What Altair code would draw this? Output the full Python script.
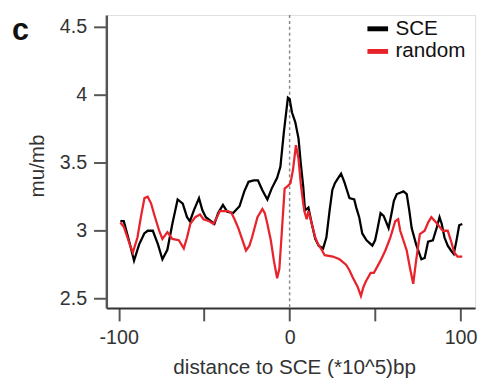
import altair as alt
import pandas as pd

# SCE (black) series
sce_x = [-99, -97, -94, -91, -88, -85, -83, -80, -77, -74.4, -71.5, -68.6, -65.5, -62.5, -60, -58.3,
         -56, -53, -51, -49, -46, -44, -41.8, -39, -36.5, -33, -29.3, -26.5, -24, -21, -18.5, -16,
         -13, -10.5, -7.3, -5.4, -3.4, -1, 0, 1.4, 3.3, 5.2, 6.5, 8, 9, 11, 13, 15, 17, 19.6, 21.5,
         23.4, 25, 26.5, 28, 30.1, 32, 33.5, 35, 37.8, 39, 40.7, 42.5, 45, 48.4, 50, 51.2, 53.2, 55,
         57.9, 59.5, 61, 62.7, 64.7, 66.6, 68.5, 70, 71.4, 74, 77.1, 79, 81, 83.8, 86, 87.7, 89,
         90.6, 92.5, 94.4, 96, 97.5, 99.2, 101]
sce_y = [3.07, 3.07, 2.93, 2.78, 2.90, 2.98, 3.00, 3.00, 2.90, 2.79, 2.86, 3.05, 3.23, 3.20, 3.10, 3.07,
         3.15, 3.24, 3.15, 3.10, 3.07, 3.05, 3.13, 3.19, 3.14, 3.13, 3.18, 3.29, 3.36, 3.37, 3.37, 3.30,
         3.23, 3.31, 3.39, 3.47, 3.72, 3.98, 3.97, 3.87, 3.80, 3.68, 3.50, 3.32, 3.15, 3.17, 3.05, 2.94,
         2.89, 2.87, 2.95, 3.15, 3.30, 3.35, 3.38, 3.42, 3.36, 3.30, 3.24, 3.23, 3.17, 3.10, 2.98, 2.93,
         2.89, 2.93, 3.00, 3.13, 3.11, 3.02, 3.12, 3.22, 3.27, 3.28, 3.29, 3.27, 3.15, 3.02, 2.90,
         2.79, 2.80, 2.92, 2.93, 3.02, 3.10, 3.05, 2.95, 2.89, 2.855, 2.83, 2.92, 3.04, 3.05]

# random (red) series
rnd_x = [-99, -97, -95.5, -93.5, -91.7, -89, -87, -84.9, -83, -81, -79.2, -76.3, -74.4, -71.5, -68.6,
         -64.8, -61.9, -60, -58.1, -55.2, -52.4, -50.4, -47, -44.6, -42.5, -40.8, -36, -34, -32.2,
         -30, -28.4, -25.5, -23.5, -22, -18.8, -15.9, -14.5, -13, -11, -9.2, -7.3, -6, -4.4, -2.9,
         -1, 0.5, 2, 3.7, 5.2, 6.5, 8, 8.6, 10, 11, 13, 15, 16.7, 19, 20.5, 25.3, 29.2, 33, 35,
         36.8, 39.7, 41.7, 43, 44.5, 47.4, 49.3, 53.2, 56, 58.9, 61.8, 63.5, 64.7, 68.5, 70.5, 72.3,
         74, 76.2, 79, 81, 82.9, 85.7, 89.6, 92.5, 94.5, 96.3, 98.2, 101]
rnd_y = [3.06, 3.03, 2.975, 2.90, 2.84, 2.95, 3.10, 3.24, 3.25, 3.20, 3.12, 3.00, 2.94, 2.99, 2.94,
         2.93, 2.87, 2.95, 3.05, 3.10, 3.12, 3.085, 3.07, 3.05, 3.10, 3.145, 3.145, 3.13, 3.085,
         3.02, 2.96, 2.855, 2.89, 2.95, 3.10, 3.16, 3.13, 3.05, 2.93, 2.78, 2.65, 2.72, 3.02, 3.31,
         3.33, 3.35, 3.45, 3.63, 3.53, 3.35, 3.20, 3.145, 3.085, 3.145, 3.05, 2.95, 2.90, 2.855, 2.82,
         2.81, 2.79, 2.75, 2.71, 2.66, 2.59, 2.52, 2.58, 2.625, 2.69, 2.69, 2.78, 2.855, 2.95, 3.07,
         3.085, 3.00, 2.855, 2.72, 2.61, 2.78, 2.975, 3.00, 3.06, 3.10, 3.06, 3.00, 3.00, 2.92, 2.84,
         2.81, 2.81]

series_names = ["SCE", "random"]
series_colors = ["#000000", "#e8232b"]
x_ticks = [-100, -50, 0, 50, 100]
y_ticks = [2.5, 3, 3.5, 4, 4.5]
center_line = [0]
panel_label = ["c"]

df = pd.concat([
    pd.DataFrame({"x": sce_x, "y": sce_y, "series": series_names[0], "order": range(len(sce_x))}),
    pd.DataFrame({"x": rnd_x, "y": rnd_y, "series": series_names[1], "order": range(len(rnd_x))}),
])

font = "Liberation Sans"
xscale = alt.Scale(domain=[-107.2, 108.5], nice=False, zero=False)
yscale = alt.Scale(domain=[2.431, 4.587], nice=False, zero=False)

lines = alt.Chart(df).mark_line(strokeWidth=2.3, clip=True).encode(
    x=alt.X("x:Q", scale=xscale,
            axis=alt.Axis(values=x_ticks, title="distance to SCE (*10^5)bp", grid=False,
                          labelExpr="datum.value == -100 || datum.value == 0 || datum.value == 100 ? '' + datum.value : ''",
                          tickSize=13, tickWidth=2, tickColor="#555", domainColor="#333", domainWidth=2,
                          labelFontSize=20, labelPadding=7, labelColor="#333", labelFont=font,
                          titleFontSize=21, titleFont=font, titleFontWeight="normal", titleColor="#333",
                          titlePadding=10, titleX=191)),
    y=alt.Y("y:Q", scale=yscale,
            axis=alt.Axis(values=y_ticks, title="mu/mb", grid=False, format=".1~f",
                          tickSize=13, tickWidth=2, tickColor="#555", domainColor="#555", domainWidth=2.5,
                          labelFontSize=20, labelPadding=7, labelColor="#333", labelFont=font,
                          titleFontSize=21, titleFont=font, titleFontWeight="normal", titleColor="#333",
                          titleX=-60, titleY=153)),
    color=alt.Color("series:N", scale=alt.Scale(domain=series_names, range=series_colors),
                    legend=alt.Legend(title=None, orient="none", legendX=263, legendY=1,
                                      symbolType="stroke", symbolSize=441, symbolStrokeWidth=5,
                                      labelFontSize=21, labelFont=font, labelColor="#111",
                                      labelOffset=5, rowPadding=0, padding=0)),
    order="order:Q",
)

rule = alt.Chart(pd.DataFrame({"x": center_line})).mark_rule(
    color="#888", strokeDash=[3, 3], strokeWidth=1.5).encode(x=alt.X("x:Q", scale=xscale))

label = alt.Chart(pd.DataFrame({"t": panel_label})).mark_text(
    font=font, fontSize=31, fontWeight="bold", align="left", baseline="alphabetic", color="#111"
).encode(x=alt.value(-96), y=alt.value(25), text="t:N")

chart = alt.layer(rule, lines, label).properties(
    width=375, height=298,
    autosize=alt.AutoSizeParams(type="none"),
    padding={"left": 100, "top": 4, "right": 6, "bottom": 72},
).configure_view(stroke="#999", strokeWidth=1.5).configure(background="white")

chart.save("out.html", embed_options={"renderer": "svg", "actions": False})
